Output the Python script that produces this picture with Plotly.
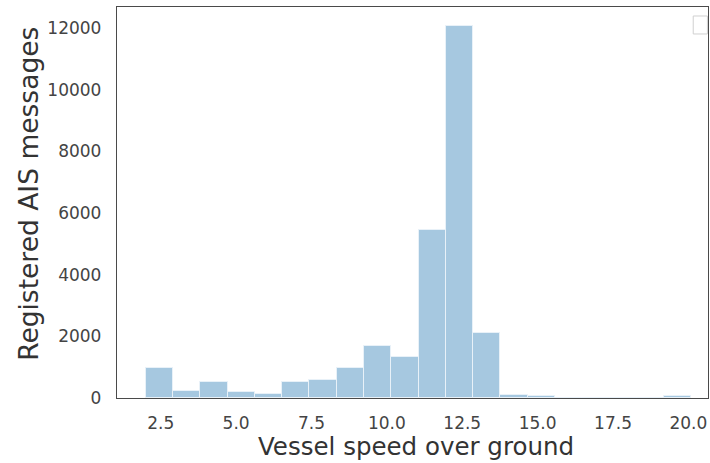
import plotly.graph_objects as go

bin_edges = [2.000, 2.905, 3.810, 4.715, 5.620, 6.525, 7.430, 8.335, 9.240, 10.145,
             11.050, 11.955, 12.860, 13.765, 14.670, 15.575, 16.480, 17.385, 18.290,
             19.195, 20.100]
counts = [985, 230, 530, 185, 120, 530, 585, 985, 1695, 1330,
          5460, 12050, 2100, 110, 50, 0, 0, 0, 0, 60]
x_ticks = [2.5, 5.0, 7.5, 10.0, 12.5, 15.0, 17.5, 20.0]
x_ticklabels = ["2.5", "5.0", "7.5", "10.0", "12.5", "15.0", "17.5", "20.0"]
y_ticks = [0, 2000, 4000, 6000, 8000, 10000, 12000]
x_title = "Vessel speed over ground"
y_title = "Registered AIS messages"

centers = [(a + b) / 2 for a, b in zip(bin_edges[:-1], bin_edges[1:])]
widths = [b - a for a, b in zip(bin_edges[:-1], bin_edges[1:])]

fig = go.Figure()
fig.add_trace(go.Bar(
    x=centers, y=counts, width=widths,
    marker=dict(color="#a6c8e0", line=dict(color="#e8f1f8", width=1)),
    showlegend=False,
))

font_family = "DejaVu Sans, sans-serif"
tick_font = dict(size=17, family=font_family, color="#444444")
fig.update_layout(
    width=710, height=463,
    margin=dict(l=117, r=2, t=7, b=65),
    paper_bgcolor="white", plot_bgcolor="white",
    font=dict(family=font_family, color="#3a3a3a"),
    bargap=0,
    xaxis=dict(
        range=[1.05, 20.65], tickvals=x_ticks, ticktext=x_ticklabels,
        showgrid=False, zeroline=False, showline=True, mirror=True,
        linecolor="#4a4a4a", linewidth=1.3,
        ticks="outside", ticklen=9, tickcolor="rgba(0,0,0,0)",
        tickfont=tick_font, automargin=False,
    ),
    yaxis=dict(
        range=[0, 12680], tickvals=y_ticks, tickformat="d",
        showgrid=False, zeroline=False, showline=True, mirror=True,
        linecolor="#4a4a4a", linewidth=1.3,
        ticks="outside", ticklen=11, tickcolor="rgba(0,0,0,0)",
        tickfont=tick_font, automargin=False,
    ),
    annotations=[
        dict(text=x_title, xref="paper", yref="paper", x=0.506, y=-0.123,
             xanchor="center", yanchor="middle", showarrow=False,
             font=dict(size=24.5, family=font_family, color="#333333")),
        dict(text=y_title, xref="paper", yref="paper", x=-0.149, y=0.522,
             xanchor="center", yanchor="middle", showarrow=False, textangle=-90,
             font=dict(size=26.5, family=font_family, color="#333333")),
    ],
    shapes=[dict(
        type="rect", xref="paper", yref="paper",
        x0=0.975, x1=0.999, y0=0.931, y1=0.977,
        line=dict(color="#d0d0d0", width=1), fillcolor="white",
    )],
)

fig.write_html(
    "out.html",
    config={"displayModeBar": False},
    post_script="document.body.style.margin='0';document.body.style.overflow='hidden';",
)
